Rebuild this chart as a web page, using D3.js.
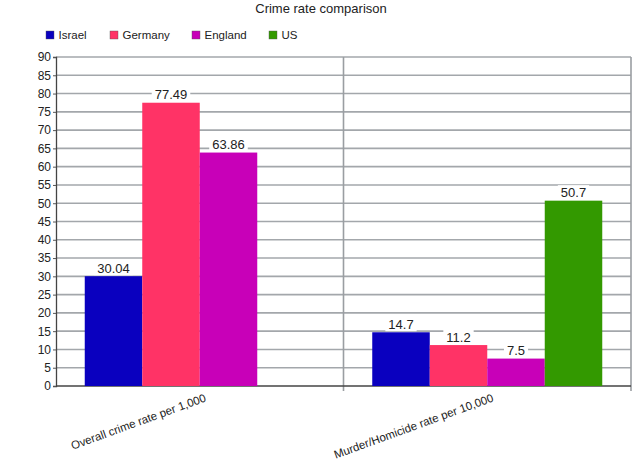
<!DOCTYPE html>
<html><head><meta charset="utf-8">
<script src="https://cdn.jsdelivr.net/npm/d3@7"></script>
<style>body{margin:0;background:#fff}svg{display:block;font-family:"Liberation Sans",Arial,sans-serif}</style>
</head><body><svg id="c" width="640" height="471"></svg>
<script>
const categories = ["Overall crime rate per 1,000", "Murder/Homicide rate per 10,000"];
const seriesNames = ["Israel", "Germany", "England", "US"];
const israel = [30.04, 14.7];
const germany = [77.49, 11.2];
const england = [63.86, 7.5];
const us = [null, 50.7];
const colors = ["#0a00bf", "#ff3366", "#c800b8", "#339900"];
const yTicks = d3.range(0, 91, 5);
const title = "Crime rate comparison";

const values = [israel, germany, england, us];
const svg = d3.select("#c");
const m = {l: 56, r: 631, t: 57, b: 386};

const x0 = d3.scaleBand().domain(categories).range([m.l, m.r]).padding(0);
const x1 = d3.scaleBand().domain(seriesNames).range([0, x0.bandwidth()]).paddingInner(0).paddingOuter(0.5);
const y = d3.scaleLinear().domain([0, 90]).range([m.b, m.t]);

svg.append("text").attr("x", 321).attr("y", 13).attr("text-anchor", "middle")
  .attr("font-size", 13).attr("fill", "#222").text(title);

// legend
const legX = [46, 110, 192, 269];
const leg = svg.append("g");
seriesNames.forEach((s, i) => {
  leg.append("rect").attr("x", legX[i]).attr("y", 31).attr("width", 8).attr("height", 8)
    .attr("fill", colors[i]).attr("stroke", "#555").attr("stroke-width", 0.4);
  leg.append("text").attr("x", legX[i] + 12.5).attr("y", 39).attr("font-size", 11.5)
    .attr("fill", "#222").text(s);
});

// grid
svg.append("g").selectAll("line").data(yTicks.filter(d => d > 0)).join("line")
  .attr("x1", m.l).attr("x2", m.r).attr("y1", d => y(d)).attr("y2", d => y(d))
  .attr("stroke", "#a3a7ab").attr("stroke-width", 1.6);

// divider and right border
svg.append("g").selectAll("line").data([x0(categories[1]), m.r]).join("line")
  .attr("x1", d => d).attr("x2", d => d).attr("y1", m.t).attr("y2", m.b + 5)
  .attr("stroke", "#9a9ea2").attr("stroke-width", 1.6);

// y axis
const ya = svg.append("g").attr("transform", `translate(${m.l},0)`)
  .call(d3.axisLeft(y).tickValues(yTicks).tickSize(3).tickPadding(2));
ya.select(".domain").attr("stroke", "#444").attr("stroke-width", 1.3);
ya.selectAll(".tick line").attr("stroke", "#555");
ya.selectAll("text").attr("font-size", 12).attr("fill", "#222").attr("font-family", "Liberation Sans, Arial, sans-serif");

// bottom axis line
svg.append("line").attr("x1", m.l).attr("x2", m.r).attr("y1", m.b).attr("y2", m.b)
  .attr("stroke", "#444").attr("stroke-width", 1.3);

// bars
const data = [];
categories.forEach((c, ci) => seriesNames.forEach((s, si) => {
  const v = values[si][ci];
  if (v != null) data.push({c, s, si, v});
}));
svg.append("g").selectAll("rect").data(data).join("rect")
  .attr("x", d => x0(d.c) + x1(d.s)).attr("width", x1.bandwidth())
  .attr("y", d => y(d.v)).attr("height", d => y(0) - y(d.v)).attr("fill", d => colors[d.si]);

// value labels
const lab = svg.append("g").selectAll("g").data(data).join("g");
lab.each(function(d) {
  const g = d3.select(this);
  const cx = x0(d.c) + x1(d.s) + x1.bandwidth() / 2;
  const t = g.append("text").attr("x", cx).attr("y", y(d.v) - 3.5).attr("text-anchor", "middle")
    .attr("font-size", 13).attr("fill", "#222").text(String(d.v));
  const bb = t.node().getBBox();
  g.insert("rect", "text").attr("x", bb.x - 3).attr("y", bb.y).attr("width", bb.width + 6)
    .attr("height", y(d.v) - bb.y - 1).attr("fill", "#fff");
});

// x labels
svg.append("g").selectAll("text").data(categories).join("text")
  .attr("transform", d => `translate(${x0(d) + x0.bandwidth() / 2 + 7},${m.b + 15}) rotate(-20)`)
  .attr("text-anchor", "end").attr("font-size", 11.5).attr("fill", "#222").text(d => d);
</script></body></html>
